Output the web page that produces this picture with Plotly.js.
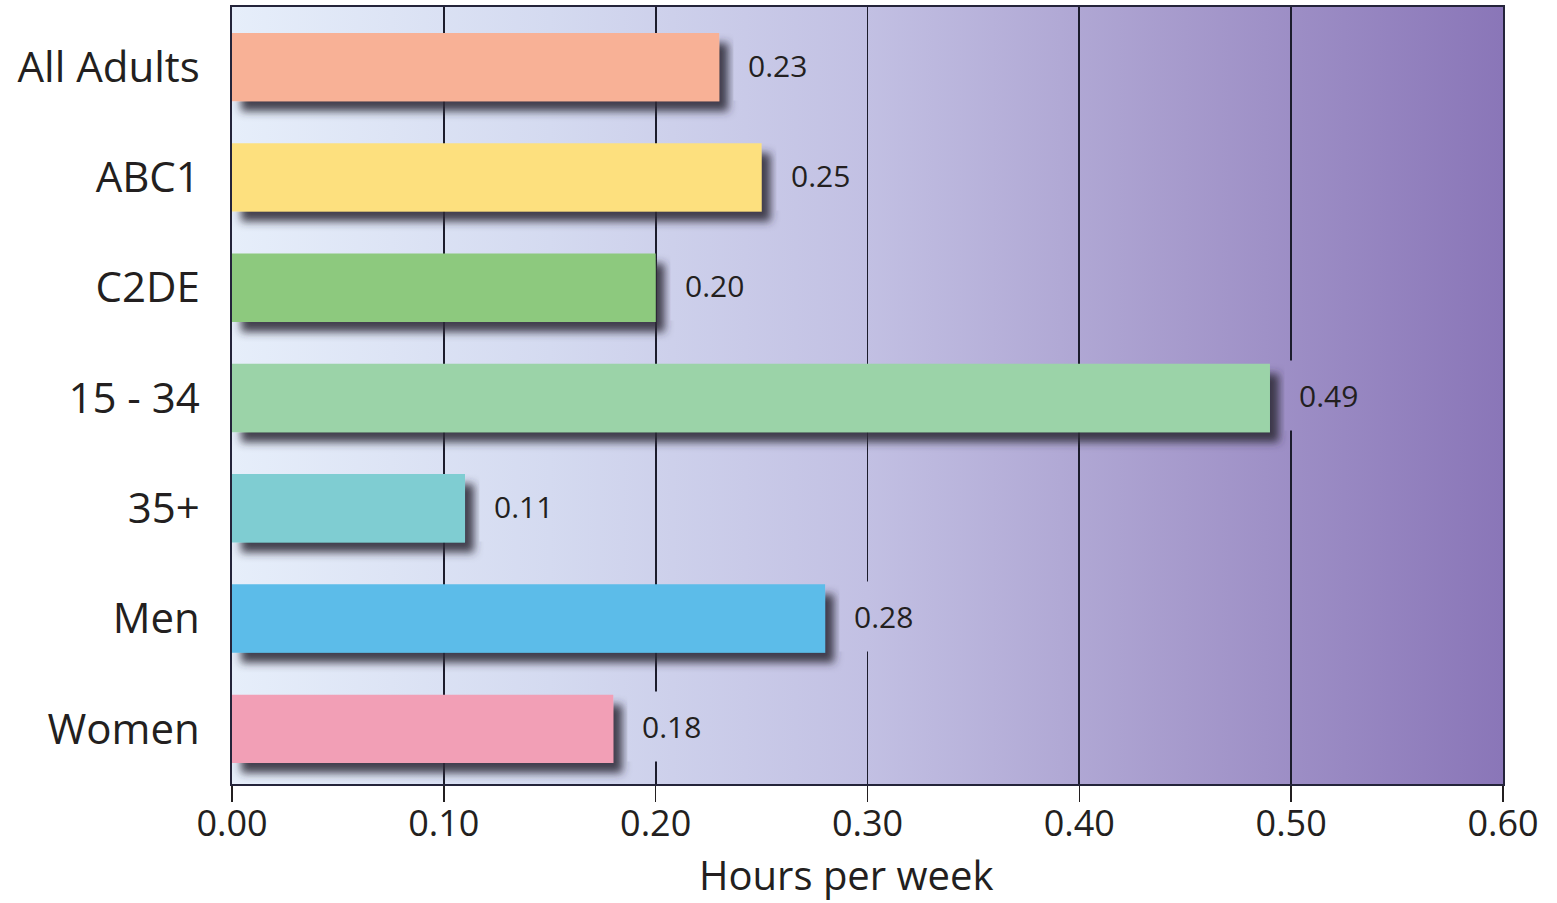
<!DOCTYPE html>
<html>
<head>
<meta charset="utf-8">
<script src="https://cdn.plot.ly/plotly-3.0.1.min.js"></script>
<style>
  html, body { margin: 0; padding: 0; background: #ffffff; }
  #chart { width: 1557px; height: 903px; }
</style>
</head>
<body>
<div id="chart"></div>
<script>
// ---- data ----
const categories = ["All Adults", "ABC1", "C2DE", "15 - 34", "35+", "Men", "Women"];
const hoursPerWeek = [0.23, 0.25, 0.20, 0.49, 0.11, 0.28, 0.18];
const valueLabels = ["0.23", "0.25", "0.20", "0.49", "0.11", "0.28", "0.18"];
const xTickVals = [0, 0.1, 0.2, 0.3, 0.4, 0.5, 0.6];
const xTickText = ["0.00", "0.10", "0.20", "0.30", "0.40", "0.50", "0.60"];
const xAxisTitle = "Hours per week";

// ---- styles ----
const barColors = ["#f8b196", "#fde07e", "#8dc97e", "#9bd3a8", "#7fcdd2", "#5bbce9", "#f29fb6"];
const gradStops = [
  [0.00, [230, 238, 250]],
  [0.25, [212, 218, 240]],
  [0.50, [194, 192, 227]],
  [0.75, [166, 154, 204]],
  [1.00, [138, 118, 184]]
];
const stopsSvg = gradStops.map(s => `<stop offset='${s[0]}' stop-color='rgb(${s[1].join(',')})'/>`).join('');
const gradSvg = `<svg xmlns='http://www.w3.org/2000/svg' width='1270' height='777' viewBox='0 0 1270 777' preserveAspectRatio='none'><defs><linearGradient id='g' x1='0' y1='0' x2='1' y2='0'>${stopsSvg}</linearGradient></defs><rect width='1270' height='777' fill='url(#g)'/></svg>`;
const gradUri = 'data:image/svg+xml;charset=utf-8,' + encodeURIComponent(gradSvg);

const W = 1557, H = 903;
const M = { l: 232, r: 54, t: 7, b: 119 };
const xMax = 0.6;
const textColor = '#231f20';
const font = "'Open Sans', 'Noto Sans', sans-serif";

const trace = {
  type: 'bar',
  orientation: 'h',
  y: categories,
  x: hoursPerWeek,
  marker: { color: barColors, line: { width: 0 } },
  width: 0.62,
  hoverinfo: 'none'
};

const annotations = categories.map((c, i) => ({
  x: hoursPerWeek[i],
  y: c,
  xref: 'x', yref: 'y',
  text: valueLabels[i],
  showarrow: false,
  xanchor: 'left',
  yanchor: 'middle',
  xshift: 14,
  yshift: 2,
  font: { family: font, size: 30, color: textColor },
  bgcolor: 'rgb(200,200,230)',
  borderpad: 14
}));
annotations.push({
  xref: 'paper', yref: 'paper',
  x: (846 - M.l) / (W - M.l - M.r), y: 0,
  xanchor: 'center', yanchor: 'middle',
  yshift: -90,
  borderpad: 0,
  showarrow: false,
  text: xAxisTitle,
  font: { family: font, size: 40, color: textColor }
});

const layout = {
  width: W,
  height: H,
  margin: { l: M.l, r: M.r, t: M.t, b: M.b, pad: 0 },
  paper_bgcolor: '#ffffff',
  plot_bgcolor: 'rgba(0,0,0,0)',
  showlegend: false,
  bargap: 0.38,
  xaxis: {
    range: [0, xMax],
    tickvals: xTickVals,
    ticktext: xTickText,
    ticks: 'outside',
    ticklen: 16,
    tickwidth: 1.6,
    tickcolor: '#231f20',
    ticklabelstandoff: -9,
    showgrid: true,
    gridcolor: '#1c1c2c',
    gridwidth: 1.8,
    zeroline: false,
    showline: true,
    linecolor: '#24243a',
    linewidth: 1.8,
    mirror: true,
    tickfont: { family: font, size: 36, color: textColor },
    fixedrange: true
  },
  yaxis: {
    type: 'category',
    range: [6.5, -0.545],
    ticks: '',
    showgrid: false,
    zeroline: false,
    showline: true,
    linecolor: '#24243a',
    linewidth: 1.8,
    mirror: true,
    ticklabelstandoff: 22,
    tickfont: { family: font, size: 42, color: textColor },
    fixedrange: true
  },
  images: [{
    source: gradUri,
    xref: 'paper', yref: 'paper',
    x: 0, y: 1,
    sizex: 1, sizey: 1,
    xanchor: 'left', yanchor: 'top',
    sizing: 'stretch',
    layer: 'below'
  }],
  annotations: annotations
};

Plotly.newPlot('chart', [trace], layout, { displayModeBar: false, staticPlot: true }).then(() => {
  const NS = 'http://www.w3.org/2000/svg';
  const svg = document.querySelector('#chart .main-svg');
  let defs = svg.querySelector('defs');
  if (!defs) { defs = document.createElementNS(NS, 'defs'); svg.insertBefore(defs, svg.firstChild); }

  // bar drop shadow
  const f = document.createElementNS(NS, 'filter');
  f.setAttribute('id', 'barShadow');
  f.setAttribute('x', '-10%'); f.setAttribute('y', '-30%');
  f.setAttribute('width', '130%'); f.setAttribute('height', '190%');
  f.innerHTML =
    "<feGaussianBlur in='SourceAlpha' stdDeviation='4.5' result='b'/>" +
    "<feOffset in='b' dx='9' dy='10' result='o'/>" +
    "<feFlood flood-color='#2e2b38' flood-opacity='0.88'/>" +
    "<feComposite in2='o' operator='in' result='s'/>" +
    "<feMerge><feMergeNode in='s'/><feMergeNode in='SourceGraphic'/></feMerge>";
  defs.appendChild(f);
  document.querySelectorAll('#chart .bars .point path').forEach(p => p.setAttribute('filter', 'url(#barShadow)'));

  // value-label boxes take the same background gradient, aligned to the plot area
  document.querySelectorAll('#chart .annotation rect.bg').forEach((r, i) => {
    if (i >= categories.length) return;
    const ctm = r.getCTM();
    const ox = ctm ? ctm.e : 0;
    const g = document.createElementNS(NS, 'linearGradient');
    g.setAttribute('id', 'lblGrad' + i);
    g.setAttribute('gradientUnits', 'userSpaceOnUse');
    g.setAttribute('x1', String(M.l - ox));
    g.setAttribute('x2', String(W - M.r - ox));
    g.setAttribute('y1', '0');
    g.setAttribute('y2', '0');
    g.innerHTML = stopsSvg;
    defs.appendChild(g);
    r.style.fill = 'url(#lblGrad' + i + ')';
    r.style.fillOpacity = '1';
  });
});
</script>
</body>
</html>
